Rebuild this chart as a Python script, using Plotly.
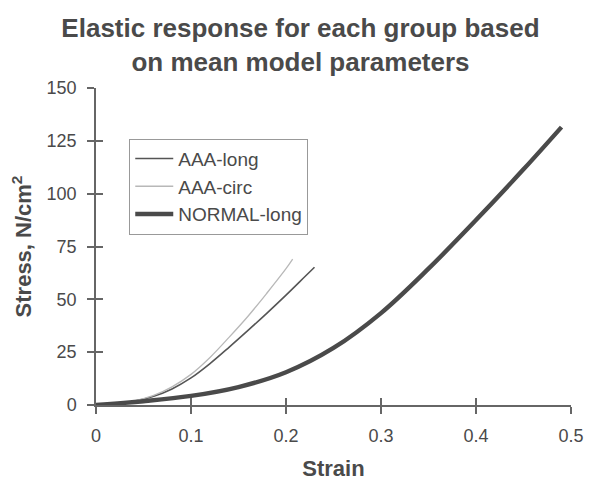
import plotly.graph_objects as go

# Data
aaa_long_strain = [0, 0.02, 0.04, 0.06, 0.08, 0.10, 0.12, 0.14, 0.16, 0.18, 0.20, 0.22, 0.23]
aaa_long_stress = [0, 0.6, 1.8, 4.0, 7.6, 12.8, 19.6, 27.3, 35.3, 43.5, 52.0, 60.8, 65.2]

aaa_circ_strain = [0, 0.02, 0.04, 0.06, 0.08, 0.10, 0.12, 0.14, 0.16, 0.18, 0.20, 0.207]
aaa_circ_stress = [0, 0.6, 1.9, 4.4, 8.6, 14.5, 22.5, 32.0, 42.0, 53.0, 64.5, 69.0]

normal_strain = [0, 0.05, 0.10, 0.15, 0.20, 0.25, 0.30, 0.35, 0.40, 0.45, 0.49]
normal_stress = [0, 1.8, 4.3, 8.5, 15.5, 27.0, 43.5, 64.5, 87.5, 111.5, 131.5]

x_ticks = [0, 0.1, 0.2, 0.3, 0.4, 0.5]
y_ticks = [0, 25, 50, 75, 100, 125, 150]

FONT = "Liberation Sans, Arial, Helvetica, sans-serif"
TXT = "#4a4a4a"
AX = "#666666"

fig = go.Figure()
fig.add_trace(go.Scatter(x=aaa_long_strain, y=aaa_long_stress, mode="lines",
                         name="AAA-long", line=dict(color="#555555", width=1.6, shape="spline")))
fig.add_trace(go.Scatter(x=aaa_circ_strain, y=aaa_circ_stress, mode="lines",
                         name="AAA-circ", line=dict(color="#b8b8b8", width=1.3, shape="spline")))
fig.add_trace(go.Scatter(x=normal_strain, y=normal_stress, mode="lines",
                         name="NORMAL-long", line=dict(color="#4a4a4a", width=4.4, shape="spline")))
# invisible trace to draw the inner half of the crossing ticks
fig.add_trace(go.Scatter(x=[None], y=[None], xaxis="x2", yaxis="y2",
                         showlegend=False, hoverinfo="skip"))

axis_common = dict(showgrid=False, zeroline=False, showline=True, linecolor=AX,
                   linewidth=1.5, tickcolor=AX, tickwidth=1.5, ticklen=7,
                   automargin=False,
                   tickfont=dict(family=FONT, size=18, color=TXT))

fig.update_layout(
    width=585, height=477,
    margin=dict(l=88, r=22, t=80, b=80),
    paper_bgcolor="white", plot_bgcolor="white",
    title=dict(text="<b>Elastic response for each group based<br>on mean model parameters</b>",
               x=0.5, xanchor="center", yref="container", y=0.939, yanchor="middle",
               font=dict(family=FONT, size=26, color=TXT)),
    xaxis=dict(range=[0, 0.5], tickvals=x_ticks, ticks="outside",
               title=dict(text="<b>Strain</b>", font=dict(family=FONT, size=22, color=TXT), standoff=15),
               ticklabelstandoff=7, **axis_common),
    yaxis=dict(range=[0, 150], tickvals=y_ticks, ticks="outside",
               title=dict(text="<b>Stress, N/cm<sup>2</sup></b>", font=dict(family=FONT, size=22, color=TXT), standoff=14),
               ticklabelstandoff=7, **axis_common),
    xaxis2=dict(range=[0, 0.5], tickvals=x_ticks, ticks="inside", overlaying="x",
                anchor="y", showticklabels=False, showgrid=False, zeroline=False,
                showline=False, tickcolor=AX, tickwidth=1.5, ticklen=7, automargin=False),
    yaxis2=dict(range=[0, 150], tickvals=y_ticks, ticks="inside", overlaying="y",
                anchor="x", showticklabels=False, showgrid=False, zeroline=False,
                showline=False, tickcolor=AX, tickwidth=1.5, ticklen=7, automargin=False),
    legend=dict(x=0.07, y=0.84, xanchor="left", yanchor="top",
                bordercolor="#999999", borderwidth=1, bgcolor="white",
                font=dict(family=FONT, size=19, color=TXT), itemwidth=38),
    showlegend=True,
)

fig.write_html("out.html")
